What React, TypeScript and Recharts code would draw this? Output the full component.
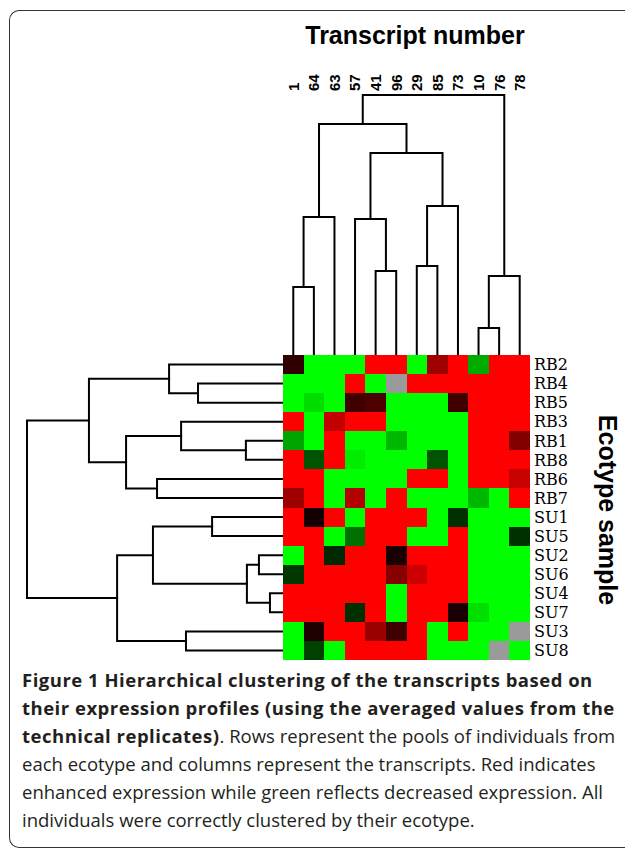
import React from 'react';
import { ScatterChart, Scatter, XAxis, YAxis, ReferenceArea } from 'recharts';

// ---------- data ----------
const columnLabels = ['1', '64', '63', '57', '41', '96', '29', '85', '73', '10', '76', '78'];
const rowLabels = ['RB2', 'RB4', 'RB5', 'RB3', 'RB1', 'RB8', 'RB6', 'RB7', 'SU1', 'SU5', 'SU2', 'SU6', 'SU4', 'SU7', 'SU3', 'SU8'];

// expression (positive = red / enhanced, negative = green / decreased, null = missing)
const rbExpression: (number | null)[][] = [
  [0.19, -1, -1, -1, 1, 1, -1, 0.63, 1, -0.67, 1, 1],
  [-1, -1, -1, 1, -1, null, 1, 1, 1, 1, 1, 1],
  [-1, -0.87, -1, 0.25, 0.3, -1, -1, -1, 0.25, 1, 1, 1],
  [1, -1, 0.76, 1, 1, -1, -1, -1, -1, 1, 1, 1],
  [-0.65, -1, 1, -1, -1, -0.72, -1, -1, -1, 1, 1, 0.5],
  [1, -0.33, 1, -0.93, -1, -1, -1, -0.33, -1, 1, 1, 1],
  [1, 1, -1, -1, -1, -1, 1, 1, -1, 1, 1, 0.78],
  [0.62, 1, -1, 0.7, -1, 1, -1, -1, -1, -0.72, -1, 1],
];
const suExpression: (number | null)[][] = [
  [1, 0.08, 1, -1, 1, 1, 1, -1, -0.19, -1, -1, -1],
  [1, 1, -1, -0.44, 1, 1, -1, -1, 1, -1, -1, -0.19],
  [-1, 1, -0.16, 1, 1, 0.1, 1, 1, 1, -1, -1, -1],
  [-0.22, 1, 1, 1, 1, 0.53, 0.8, 1, 1, -1, -1, -1],
  [1, 1, 1, 1, 1, -1, 1, 1, 1, -1, -1, -1],
  [1, 1, 1, -0.19, 1, -1, 1, 1, 0.1, -0.88, -1, -1],
  [-1, 0.12, 1, 1, 0.6, 0.25, 1, -1, 1, -1, -1, null],
  [-1, -0.25, -1, 1, 1, 1, 1, -1, -1, -1, null, -1],
];

// linkage: [childA, childB, height]; ids < n are leaves, id n+k is merge k
const columnMerges: number[][] = [
  [0, 1, 2.62],
  [12, 2, 5.31],
  [4, 5, 3.23],
  [3, 14, 5.23],
  [6, 7, 3.42],
  [16, 8, 5.73],
  [15, 17, 7.77],
  [13, 18, 8.88],
  [9, 10, 1.04],
  [20, 11, 3.04],
  [19, 21, 10],
];
const rowMerges: number[][] = [
  [1, 2, 3.32],
  [0, 16, 4.45],
  [4, 5, 1.45],
  [3, 18, 3.98],
  [6, 7, 4.92],
  [19, 20, 6.13],
  [17, 21, 7.58],
  [8, 9, 2.77],
  [10, 11, 0.94],
  [12, 13, 0.51],
  [24, 25, 1.41],
  [23, 26, 5.08],
  [14, 15, 3.79],
  [27, 28, 6.48],
  [22, 29, 10],
];

// ---------- helpers ----------
const expression = [...rbExpression, ...suExpression];

const toColor = (v: number | null) => {
  if (v === null) return '#9a9a9a';
  if (v >= 0) return `rgb(${Math.round(255 * v)},0,0)`;
  return `rgb(0,${Math.round(-255 * v)},0)`;
};

type Pt = { p: number; h: number };
const buildSegments = (nLeaves: number, merges: number[][]) => {
  const pos: number[] = [];
  const ht: number[] = [];
  for (let i = 0; i < nLeaves; i++) {
    pos[i] = i + 0.5;
    ht[i] = 0;
  }
  const segs: Pt[][] = [];
  merges.forEach(([a, b, h], k) => {
    const id = nLeaves + k;
    pos[id] = (pos[a] + pos[b]) / 2;
    ht[id] = h;
    segs.push([
      { p: pos[a], h: ht[a] },
      { p: pos[a], h },
      { p: pos[b], h },
      { p: pos[b], h: ht[b] },
    ]);
  });
  return segs;
};

const columnSegs = buildSegments(columnLabels.length, columnMerges);
const rowSegs = buildSegments(rowLabels.length, rowMerges);

const cells = expression.flatMap((row, r) => row.map((v, c) => ({ r, c, v, x: c + 0.5, y: r + 0.5 })));
const columnTicks = columnLabels.map((_, i) => i + 0.5);
const rowTicks = rowLabels.map((_, i) => i + 0.5);

const NoShape = () => <g />;

const ColumnTick = (props: any) => {
  const { x, y, payload } = props;
  return (
    <text
      x={x}
      y={y}
      dy="0.36em"
      transform={`rotate(-90, ${x}, ${y})`}
      textAnchor="start"
      fontSize={15}
      fontWeight="bold"
      fontFamily="'Liberation Sans', Arial, sans-serif"
      fill="#000"
    >
      {columnLabels[Math.floor(payload.value)]}
    </text>
  );
};

const RowTick = (props: any) => {
  const { x, y, payload } = props;
  return (
    <text
      x={x}
      y={y}
      dy="0.36em"
      textAnchor="start"
      fontSize={16}
      fontFamily="'DejaVu Serif', serif"
      fill="#000"
    >
      {rowLabels[Math.floor(payload.value)]}
    </text>
  );
};

const lineStyle = { stroke: '#000', strokeWidth: 2, strokeLinecap: 'square' as const };

const HEAT_W = 247;
const HEAT_H = 305;
const boldStyle = { letterSpacing: '0.5px' };

export default function App() {
  return (
    <div
      style={{
        position: 'absolute',
        left: 0,
        top: 0,
        width: 625,
        height: 861,
        overflow: 'hidden',
        background: '#fff',
      }}
    >
      {/* frame */}
      <div
        style={{
          position: 'absolute',
          left: 9,
          top: 10,
          width: 660,
          height: 838,
          borderLeft: '1.5px solid #333',
          borderTop: '1.5px solid #333',
          borderBottom: '1.5px solid #333',
          borderRadius: '10px 0 0 10px',
          boxSizing: 'border-box',
        }}
      />

      {/* title */}
      <div
        style={{
          position: 'absolute',
          left: 265,
          top: 23,
          width: 300,
          textAlign: 'center',
          fontFamily: "'Liberation Sans', Arial, sans-serif",
          fontWeight: 'bold',
          fontSize: 25,
          lineHeight: '25px',
          color: '#000',
          whiteSpace: 'nowrap',
        }}
      >
        Transcript number
      </div>

      {/* top dendrogram with column labels */}
      <div style={{ position: 'absolute', left: 283, top: 40 }}>
        <ScatterChart width={HEAT_W} height={315} margin={{ top: 0, right: 0, bottom: 0, left: 0 }}>
          <XAxis
            dataKey="x"
            type="number"
            domain={[0, 12]}
            orientation="top"
            height={55}
            ticks={columnTicks}
            interval={0}
            axisLine={false}
            tickLine={false}
            tickSize={0}
            tickMargin={4}
            tick={<ColumnTick />}
          />
          <YAxis dataKey="y" type="number" domain={[0, 10]} hide />
          {columnSegs.map((seg, i) => (
            <Scatter
              key={i}
              data={seg.map((q) => ({ x: q.p, y: q.h }))}
              line={lineStyle}
              lineType="joint"
              shape={NoShape}
              isAnimationActive={false}
            />
          ))}
        </ScatterChart>
      </div>

      {/* left dendrogram */}
      <div style={{ position: 'absolute', left: 17, top: 355 }}>
        <ScatterChart width={266} height={HEAT_H} margin={{ top: 0, right: 0, bottom: 0, left: 10 }}>
          <XAxis dataKey="x" type="number" domain={[0, 10]} reversed hide />
          <YAxis dataKey="y" type="number" domain={[0, 16]} reversed hide />
          {rowSegs.map((seg, i) => (
            <Scatter
              key={i}
              data={seg.map((q) => ({ x: q.h, y: q.p }))}
              line={lineStyle}
              lineType="joint"
              shape={NoShape}
              isAnimationActive={false}
            />
          ))}
        </ScatterChart>
      </div>

      {/* heatmap with row labels */}
      <div style={{ position: 'absolute', left: 283, top: 355 }}>
        <ScatterChart width={HEAT_W + 60} height={HEAT_H} margin={{ top: 0, right: 0, bottom: 0, left: 0 }}>
          <XAxis dataKey="x" type="number" domain={[0, 12]} hide />
          <YAxis
            dataKey="y"
            type="number"
            domain={[0, 16]}
            reversed
            orientation="right"
            width={60}
            ticks={rowTicks}
            interval={0}
            axisLine={false}
            tickLine={false}
            tickSize={0}
            tickMargin={4}
            tick={<RowTick />}
          />
          {cells.map((cell) => (
            <ReferenceArea
              key={`${cell.r}-${cell.c}`}
              x1={cell.c}
              x2={cell.c + 1}
              y1={cell.r}
              y2={cell.r + 1}
              fill={toColor(cell.v)}
              fillOpacity={1}
              stroke="none"
              shapeRendering="crispEdges"
              ifOverflow="visible"
            />
          ))}
          <Scatter data={cells} shape={NoShape} isAnimationActive={false} />
        </ScatterChart>
      </div>

      {/* right axis title */}
      <div
        style={{
          position: 'absolute',
          left: 607,
          top: 510,
          transform: 'translate(-50%, -50%) rotate(90deg)',
          fontFamily: "'Liberation Sans', Arial, sans-serif",
          fontWeight: 'bold',
          fontSize: 25,
          lineHeight: '25px',
          color: '#000',
          whiteSpace: 'nowrap',
        }}
      >
        Ecotype sample
      </div>

      {/* caption */}
      <div
        style={{
          position: 'absolute',
          left: 22,
          top: 666,
          fontFamily: "'Open Sans', 'Noto Sans', sans-serif",
          fontSize: 18.5,
          lineHeight: '28px',
          color: '#231f20',
          whiteSpace: 'nowrap',
        }}
      >
        <div>
          <b style={boldStyle}>Figure 1 Hierarchical clustering of the transcripts based on</b>
        </div>
        <div>
          <b style={boldStyle}>their expression profiles (using the averaged values from the</b>
        </div>
        <div>
          <b style={boldStyle}>technical replicates)</b>. Rows represent the pools of individuals from
        </div>
        <div>each ecotype and columns represent the transcripts. Red indicates</div>
        <div>enhanced expression while green reflects decreased expression. All</div>
        <div>individuals were correctly clustered by their ecotype.</div>
      </div>
    </div>
  );
}
